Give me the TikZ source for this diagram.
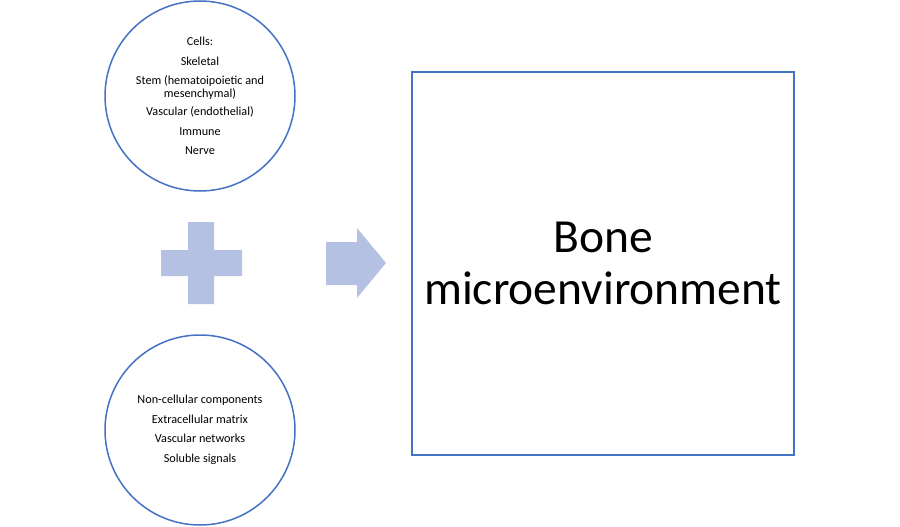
\documentclass[tikz,border=0pt]{standalone}
\usepackage{fontspec}
\setmainfont{Carlito}
\definecolor{ringblue}{RGB}{68,114,196}
\definecolor{shapefill}{RGB}{180,193,226}
\tikzset{
	ring/.style={draw=ringblue, line width=1.5pt, circle, minimum size=190pt, inner sep=0pt, align=center, font=\fontsize{12.2}{13}\selectfont},
	bigbox/.style={draw=ringblue, line width=1.5pt, minimum width=382pt, minimum height=383pt, align=center, font=\fontsize{47.5}{52}\selectfont},
	solid fill/.style={fill=shapefill, draw=none}
}
\begin{document}
\begin{tikzpicture}[x=1pt, y=-1pt]
	\useasboundingbox (0,0) rectangle (900,527);

	% Node definitions.
	\node[ring] (cells) at (200,96) {Cells:\\[6.5pt] Skeletal\\[6.5pt] Stem (hematoipoietic and\\ mesenchymal)\\[5pt] Vascular (endothelial)\\[6.5pt] Immune\\[6.5pt] Nerve};
	\node[ring] (noncell) at (200,430) {Non-cellular components\\[6.5pt] Extracellular matrix\\[6.5pt] Vascular networks\\[6.5pt] Soluble signals};
	\node[bigbox] (bone) at (603,263.5) {Bone\\ microenvironment};

	% Plus sign.
	\fill[solid fill] (188,222) -- (214,222) -- (214,250) -- (242,250) -- (242,276) -- (214,276)
		-- (214,304) -- (188,304) -- (188,276) -- (161,276) -- (161,250) -- (188,250) -- cycle;

	% Arrow.
	\fill[solid fill] (326,242) -- (357,242) -- (357,228) -- (386,263) -- (357,298) -- (357,285) -- (326,285) -- cycle;

\end{tikzpicture}
\end{document}
